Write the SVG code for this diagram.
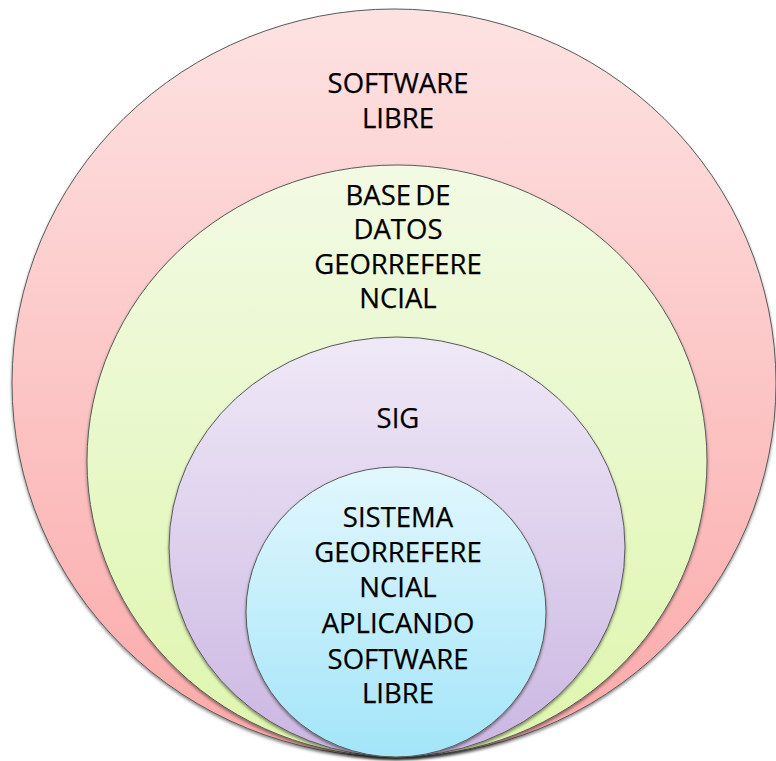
<svg xmlns="http://www.w3.org/2000/svg" width="776" height="761" viewBox="0 0 776 761">
  <defs>
    <linearGradient id="gRed" x1="0" y1="0" x2="0" y2="1">
      <stop offset="0" stop-color="#fde2e2"/>
      <stop offset="1" stop-color="#fba9a9"/>
    </linearGradient>
    <linearGradient id="gGreen" x1="0" y1="0" x2="0" y2="1">
      <stop offset="0" stop-color="#f2fae4"/>
      <stop offset="1" stop-color="#def6ad"/>
    </linearGradient>
    <linearGradient id="gPurple" x1="0" y1="0" x2="0" y2="1">
      <stop offset="0" stop-color="#efe9f7"/>
      <stop offset="1" stop-color="#cbb6e2"/>
    </linearGradient>
    <linearGradient id="gBlue" x1="0" y1="0" x2="0" y2="1">
      <stop offset="0" stop-color="#e2f7fd"/>
      <stop offset="1" stop-color="#a3e5f9"/>
    </linearGradient>
    <filter id="shadow" x="-5%" y="-5%" width="110%" height="112%">
      <feDropShadow dx="0" dy="2" stdDeviation="1.5" flood-color="#000" flood-opacity="0.45"/>
    </filter>
  </defs>
  <style>
    .ring { stroke: #5a5a5a; stroke-width: 1; filter: url(#shadow); }
    .label { font-family: "Open Sans", "Liberation Sans", sans-serif; font-size: 27.5px; fill: #000; stroke: #000; stroke-width: 0.25; text-anchor: middle; word-spacing: -3px; }
  </style>

  <rect width="776" height="761" fill="#ffffff"/>

  <g id="software-libre">
    <ellipse class="ring" cx="394" cy="383" rx="382" ry="374" fill="url(#gRed)"/>
    <text class="label" x="398" y="93">SOFTWARE</text>
    <text class="label" x="398" y="128">LIBRE</text>
  </g>

  <g id="base-datos">
    <ellipse class="ring" cx="397" cy="461" rx="310" ry="296" fill="url(#gGreen)"/>
    <text class="label" x="398" y="205">BASE DE</text>
    <text class="label" x="398" y="239">DATOS</text>
    <text class="label" x="398" y="274">GEORREFERE</text>
    <text class="label" x="398" y="308">NCIAL</text>
  </g>

  <g id="sig">
    <ellipse class="ring" cx="397" cy="547" rx="228" ry="210" fill="url(#gPurple)"/>
    <text class="label" x="398" y="428">SIG</text>
  </g>

  <g id="sistema">
    <ellipse class="ring" cx="396" cy="612" rx="150" ry="145" fill="url(#gBlue)"/>
    <text class="label" x="398" y="527">SISTEMA</text>
    <text class="label" x="398" y="562">GEORREFERE</text>
    <text class="label" x="398" y="597">NCIAL</text>
    <text class="label" x="398" y="633">APLICANDO</text>
    <text class="label" x="398" y="669">SOFTWARE</text>
    <text class="label" x="398" y="703">LIBRE</text>
  </g>
</svg>
